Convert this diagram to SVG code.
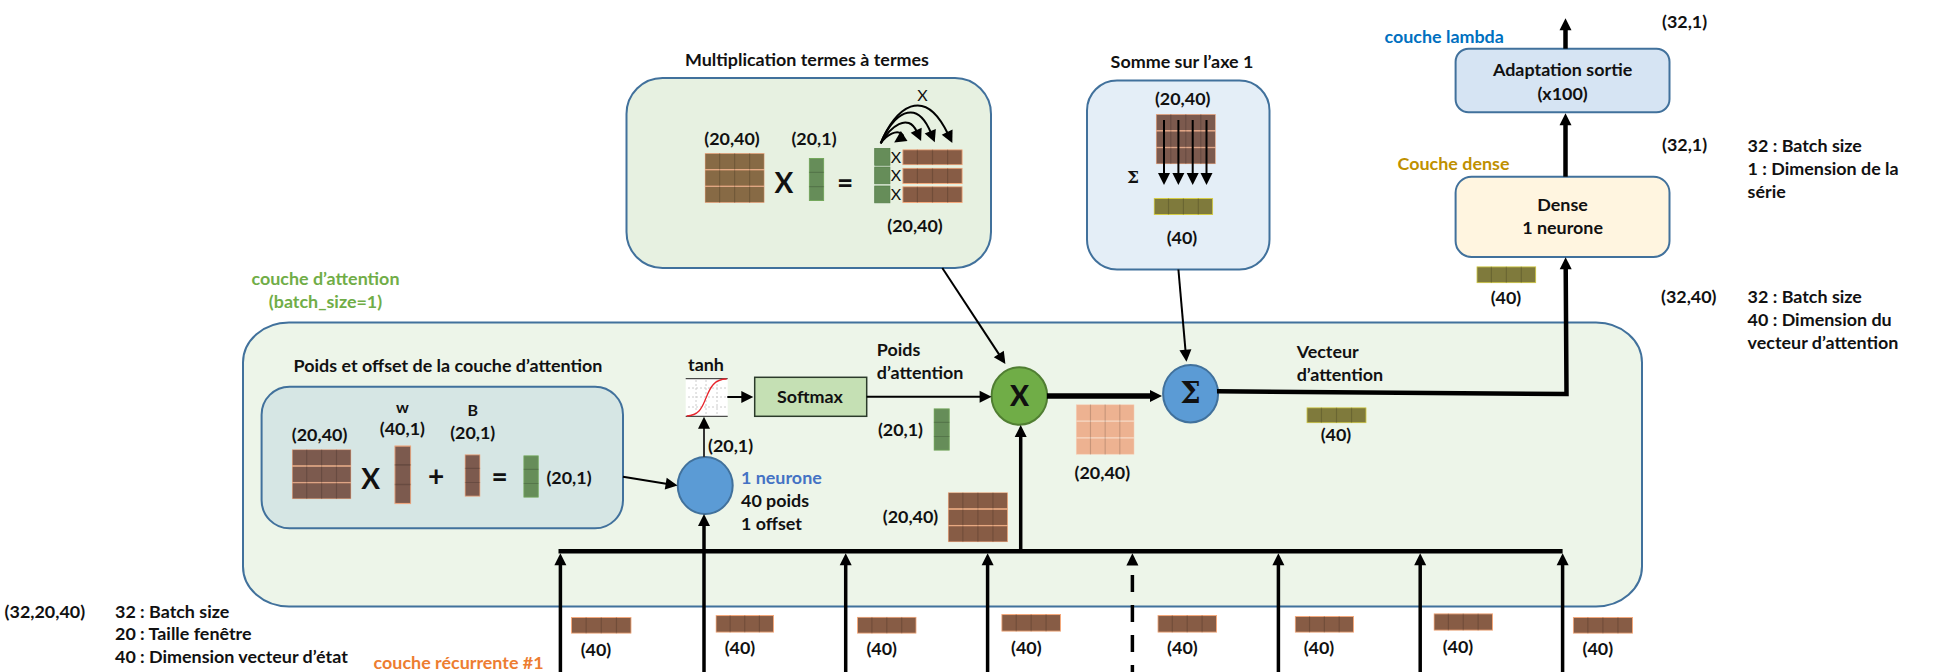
<svg xmlns="http://www.w3.org/2000/svg" width="1933" height="672" viewBox="0 0 1933 672">
<style>
text{font-family:Lato,"Liberation Sans",sans-serif;font-weight:700;font-size:17.9px;fill:#111;dominant-baseline:central;transform:translateY(-1px)}
.m{text-anchor:middle}
.big{font-size:28px;font-weight:900}
.op{font-size:28px;font-weight:700}
.sig{font-family:"DejaVu Serif",serif}
.small{font-weight:400;font-size:16px}
.panel{stroke:#41719c;stroke-width:2}
.conn line,.conn polyline{stroke:#000;fill:none}
.w2{stroke-width:2}.w3{stroke-width:3.5}.w4{stroke-width:4.5}.w5{stroke-width:5.5}
.ar{marker-end:url(#h)}
.brown{color:#7c5a4e;stroke:#eda67f}
.brown2{color:#875c45;stroke:#f4a97c}
.olivebr{color:#876a45;stroke:#eda67f}
.peach{color:#edb291;stroke:#f7d2bb}
.green{color:#668d59;stroke:#74a85c}
.olive{color:#7f7a3c;stroke:#d4cc45}
.sq{fill:#668d59;stroke:#557f4a;stroke-width:.8}
</style>
<defs>
<marker id="h" markerUnits="userSpaceOnUse" markerWidth="13" markerHeight="13" refX="2" refY="6.5" orient="auto" overflow="visible"><path d="M0 0.5L12 6.5L0 12.5Z" fill="#000"/></marker>
<symbol id="mat" viewBox="0 0 60 50" preserveAspectRatio="none">
<g fill="currentColor" stroke-width=".7"><rect x=".4" y=".4" width="59.2" height="16"/><rect x=".4" y="17" width="59.2" height="16"/><rect x=".4" y="33.6" width="59.2" height="16"/></g>
<path d="M15 0V50M30 0V50M45 0V50" stroke="#000" stroke-opacity=".16" stroke-width="1.2" fill="none"/>
</symbol>
<symbol id="row" viewBox="0 0 60 17" preserveAspectRatio="none">
<rect x=".5" y=".5" width="59" height="16" fill="currentColor" stroke-width="1"/>
<path d="M15 0V17M30 0V17M45 0V17" stroke="#000" stroke-opacity=".16" stroke-width="1.2" fill="none"/>
</symbol>
<symbol id="col" viewBox="0 0 16 43" preserveAspectRatio="none">
<rect x=".5" y=".5" width="15" height="42" fill="currentColor" stroke-width="1"/>
<path d="M0 14.3H16M0 28.6H16" stroke="#000" stroke-opacity=".16" stroke-width="1.2" fill="none"/>
</symbol>
</defs>

<g id="attention-layer">
<rect class="panel" x="243" y="322.5" width="1399" height="284" rx="46" ry="40" fill="#edf5e9"/>
<text class="m" x="325.5" y="278.6" style="fill:#70ad47">couche d’attention</text>
<text class="m" x="325.5" y="302" style="fill:#70ad47">(batch_size=1)</text>
</g>

<g id="mult-panel">
<text class="m" x="807" y="59.5">Multiplication termes à termes</text>
<rect class="panel" x="626.5" y="78" width="364.5" height="190" rx="36" fill="#e7f1e1"/>
<text class="m" x="732" y="139">(20,40)</text>
<use href="#mat" class="olivebr" x="704.6" y="153" width="60" height="50"/>
<text class="m op" x="784" y="183">X</text>
<text class="m" x="814" y="139">(20,1)</text>
<use href="#col" class="green" x="808.7" y="158" width="15.6" height="43"/>
<text class="m op" x="845" y="183">=</text>
<rect class="sq" x="874.7" y="148.5" width="15.2" height="16.8"/>
<rect class="sq" x="874.7" y="167" width="15.2" height="16.8"/>
<rect class="sq" x="874.7" y="186" width="15.2" height="16.8"/>
<text class="m small" x="896" y="157">X</text>
<text class="m small" x="896" y="175">X</text>
<text class="m small" x="896" y="194">X</text>
<use href="#row" class="brown2" x="902.3" y="149.3" width="60.4" height="16"/>
<use href="#row" class="brown2" x="902.3" y="167.7" width="60.4" height="16.3"/>
<use href="#row" class="brown2" x="902.3" y="186.2" width="60.4" height="16.8"/>
<g fill="none" stroke="#000" stroke-width="2">
<path class="ar" d="M880.7 143.3C887 134 897 130 901 133.5C903 135 904 136 902.5 137"/>
<path class="ar" d="M880.7 143.3C890 127 908 112 917 132"/>
<path class="ar" d="M880.7 143.3C892 115 916 96 931 133"/>
<path class="ar" d="M880.7 143.3C895 108 924 84 948 134"/>
</g>
<text class="m small" x="922.4" y="95">X</text>
<text class="m" x="915" y="225.7">(20,40)</text>
</g>

<g id="sum-panel">
<text class="m" x="1182" y="62">Somme sur l’axe 1</text>
<rect class="panel" x="1087" y="80.5" width="182.5" height="189" rx="30" fill="#e4eef7"/>
<text class="m" x="1182.7" y="99">(20,40)</text>
<use href="#mat" class="brown" x="1155.8" y="114" width="60" height="50.3"/>
<g stroke="#000" stroke-width="2">
<line class="ar" x1="1164" y1="120" x2="1164" y2="175"/>
<line class="ar" x1="1178.4" y1="120" x2="1178.4" y2="175"/>
<line class="ar" x1="1192.7" y1="120" x2="1192.7" y2="175"/>
<line class="ar" x1="1206.5" y1="120" x2="1206.5" y2="175"/>
</g>
<text class="m sig" x="1133" y="177.7" style="font-size:17px">Σ</text>
<use href="#row" class="olive" x="1153.6" y="198" width="59.6" height="17"/>
<text class="m" x="1182" y="237.7">(40)</text>
</g>

<g id="weights-panel">
<text class="m" x="448" y="366">Poids et offset de la couche d’attention</text>
<rect class="panel" x="261.6" y="386.7" width="361.4" height="141.6" rx="28" fill="#d6e6e4"/>
<text class="m" x="319.6" y="434.7">(20,40)</text>
<use href="#mat" class="brown" x="291.8" y="449.3" width="59.6" height="50"/>
<text class="m op" x="370.6" y="479">X</text>
<text class="m" x="402.4" y="407.7" style="font-size:16px">w</text>
<text class="m" x="402.4" y="429.3">(40,1)</text>
<use href="#col" class="brown" x="394.3" y="445.3" width="17" height="59"/>
<text class="m op" x="436" y="476">+</text>
<text class="m" x="472.7" y="410" style="font-size:16px">B</text>
<text class="m" x="472.7" y="433.3">(20,1)</text>
<use href="#col" class="brown" x="464.5" y="454.3" width="16" height="42.4"/>
<text class="m op" x="499.6" y="476.7">=</text>
<use href="#col" class="green" x="523.3" y="455.3" width="15.5" height="42.4"/>
<text class="m" x="569" y="478">(20,1)</text>
</g>

<g id="neuron">
<ellipse cx="705.2" cy="485.5" rx="27.5" ry="28.5" fill="#5b9bd5" stroke="#41719c" stroke-width="2"/>
<text x="741" y="478" style="fill:#4472c4">1 neurone</text>
<text x="741" y="501.3">40 poids</text>
<text x="741" y="524">1 offset</text>
<text x="708" y="445.7">(20,1)</text>
</g>

<g id="tanh">
<text class="m" x="706" y="365.3">tanh</text>
<rect x="685.7" y="378.7" width="42" height="37.6" fill="#fff"/>
<path d="M685.7 378.7H727.7M685.7 416.3H727.7" stroke="#222" stroke-width="1" fill="none"/>
<path d="M688 388H726M688 397H726M688 407H726M696 380V415M706 380V415M717 380V415" stroke="#ccc" stroke-width="1" stroke-dasharray="2 2" fill="none"/>
<path d="M686.7 416C700 415 702 407 706 398C710 388 714 379 726.7 379" stroke="#e8252c" stroke-width="1.3" fill="none"/>
</g>

<g id="softmax">
<rect x="754.7" y="377.3" width="112" height="39" fill="#c5e0b4" stroke="#2b3a2a" stroke-width="1.5"/>
<text class="m" x="810" y="397">Softmax</text>
</g>

<g id="poids-attention">
<text x="876.8" y="350">Poids</text>
<text x="876.8" y="373.3">d’attention</text>
<use href="#col" class="green" x="933.5" y="408.3" width="16.3" height="42.4"/>
<text x="877.9" y="430">(20,1)</text>
</g>

<g id="mult-node">
<ellipse cx="1019.4" cy="396" rx="27.8" ry="28.7" fill="#70ad47" stroke="#507e32" stroke-width="2"/>
<text class="m big" x="1019.4" y="396">X</text>
</g>

<g id="sum-node">
<ellipse cx="1190.6" cy="393.7" rx="27.5" ry="28.7" fill="#5b9bd5" stroke="#41719c" stroke-width="2"/>
<text class="m sig big" x="1190.6" y="394" style="font-size:29px;font-weight:700">Σ</text>
</g>

<g id="mat-hidden">
<use href="#mat" class="brown2" x="947.8" y="492.3" width="60.2" height="50"/>
<text class="m" x="910.5" y="516.7">(20,40)</text>
</g>
<g id="mat-weighted">
<use href="#mat" class="peach" x="1075.8" y="404.3" width="58.7" height="50.4"/>
<text class="m" x="1102.3" y="473.3">(20,40)</text>
</g>
<g id="attention-vector">
<text x="1296.7" y="352.3">Vecteur</text>
<text x="1296.7" y="375.3">d’attention</text>
<use href="#row" class="olive" x="1306.4" y="407.3" width="60.2" height="16"/>
<text class="m" x="1336" y="435.3">(40)</text>
</g>

<g id="dense">
<text x="1397.6" y="164" style="fill:#bf9000">Couche dense</text>
<rect class="panel" x="1455.6" y="176.7" width="213.9" height="80.3" rx="16" fill="#fff5e0"/>
<text class="m" x="1562.6" y="205">Dense</text>
<text class="m" x="1562.6" y="228">1 neurone</text>
<use href="#row" class="olive" x="1476.4" y="266.3" width="59.9" height="17"/>
<text class="m" x="1506" y="298">(40)</text>
</g>

<g id="adaptation">
<text x="1384.5" y="37.3" style="fill:#0070c0">couche lambda</text>
<rect class="panel" x="1455.6" y="48.7" width="213.9" height="63.6" rx="13" fill="#d6e4f3"/>
<text class="m" x="1562.6" y="70.3">Adaptation sortie</text>
<text class="m" x="1562.6" y="94.3">(x100)</text>
</g>

<g id="notes">
<text x="1662" y="21.7">(32,1)</text>
<text x="1662" y="145.3">(32,1)</text>
<text x="1747.6" y="146">32 : Batch size</text>
<text x="1747.6" y="169">1 : Dimension de la</text>
<text x="1747.6" y="192.3">série</text>
<text x="1661" y="297.3">(32,40)</text>
<text x="1747.6" y="297.3">32 : Batch size</text>
<text x="1747.6" y="320">40 : Dimension du</text>
<text x="1747.6" y="342.7">vecteur d’attention</text>
<text x="4.6" y="611.7">(32,20,40)</text>
<text x="115" y="611.7">32 : Batch size</text>
<text x="115" y="634.3">20 : Taille fenêtre</text>
<text x="115" y="657.3">40 : Dimension vecteur d’état</text>
<text x="373.6" y="663" style="fill:#ed7d31">couche récurrente #1</text>
</g>

<g id="states">
<use href="#row" class="brown2" x="571" y="617" width="60.6" height="16.7"/><text class="m" x="596" y="650">(40)</text>
<use href="#row" class="brown2" x="715.5" y="615" width="58.5" height="17.7"/><text class="m" x="740" y="648">(40)</text>
<use href="#row" class="brown2" x="857" y="616.7" width="59.6" height="17"/><text class="m" x="881.7" y="649.3">(40)</text>
<use href="#row" class="brown2" x="1001.3" y="614" width="59.7" height="17.7"/><text class="m" x="1026.3" y="647.7">(40)</text>
<use href="#row" class="brown2" x="1157.4" y="615" width="59.6" height="17.7"/><text class="m" x="1182.4" y="648.3">(40)</text>
<use href="#row" class="brown2" x="1294.7" y="616" width="59.3" height="16.7"/><text class="m" x="1319" y="648">(40)</text>
<use href="#row" class="brown2" x="1433.5" y="613.3" width="59.5" height="17.4"/><text class="m" x="1458" y="646.7">(40)</text>
<use href="#row" class="brown2" x="1572.8" y="617" width="60.2" height="16.7"/><text class="m" x="1597.8" y="649.3">(40)</text>
</g>

<g id="connectors" class="conn">
<line class="w2 ar" x1="623" y1="476.7" x2="667.7" y2="484"/>
<line class="w2 ar" x1="704" y1="457" x2="704" y2="426.7" style="stroke:#333"/>
<line class="w2 ar" x1="727.3" y1="397" x2="743.3" y2="397"/>
<line class="w2 ar" x1="866.7" y1="396.7" x2="981.6" y2="396.7"/>
<line class="w5 ar" x1="1047" y1="396" x2="1152" y2="396"/>
<line class="w2 ar" x1="942.3" y1="268" x2="999.9" y2="355.6"/>
<line class="w2 ar" x1="1178.4" y1="269.5" x2="1185.6" y2="351.7"/>
<polyline class="w4 ar" points="1217,391.3 1566.5,394 1565.7,267.3"/>
<line class="w4 ar" x1="1565.5" y1="176.7" x2="1565.5" y2="123.3"/>
<line class="w4 ar" x1="1565.5" y1="48.7" x2="1565.5" y2="28.3"/>
<line class="w4" x1="558.5" y1="551.3" x2="1562.6" y2="551.3"/>
<line class="w3 ar" x1="1020.7" y1="551" x2="1020.7" y2="435"/>
<line class="w3 ar" x1="560.4" y1="672" x2="560.4" y2="563.3"/>
<line class="w3 ar" x1="704" y1="672" x2="704" y2="524"/>
<line class="w3 ar" x1="845.7" y1="672" x2="845.7" y2="563.3"/>
<line class="w3 ar" x1="987.6" y1="672" x2="987.6" y2="563.3"/>
<line class="w3" x1="1132.4" y1="672" x2="1132.4" y2="575" stroke-dasharray="7 13 17 13 17 13 17 13"/>
<path d="M1126.4 565.5L1132.4 553.3L1138.4 565.5Z" fill="#000"/>
<line class="w3 ar" x1="1278.4" y1="672" x2="1278.4" y2="563.3"/>
<line class="w3 ar" x1="1420.2" y1="672" x2="1420.2" y2="563.3"/>
<line class="w3 ar" x1="1562.6" y1="672" x2="1562.6" y2="563.3"/>
</g>
</svg>
